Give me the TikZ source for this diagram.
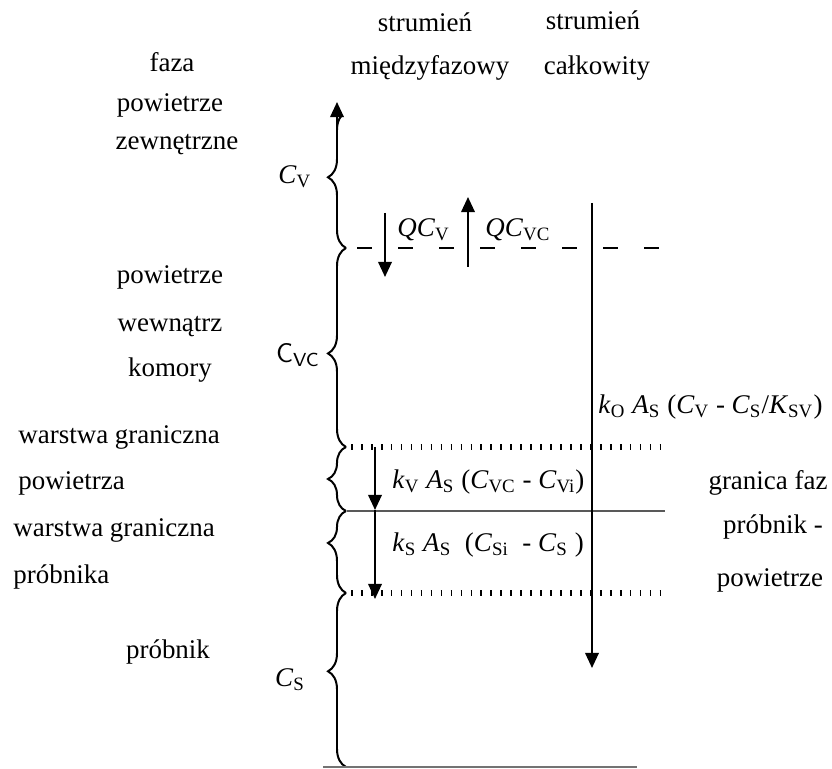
\documentclass[tikz,border=0pt]{standalone}
\usepackage{fontspec}
\setmainfont{Liberation Serif}
\usetikzlibrary{arrows.meta, decorations.pathreplacing}

\newcommand{\cvar}[2]{\textit{#1}\textsubscript{#2}}

\begin{document}
\begin{tikzpicture}[x=0.015cm, y=-0.015cm,
    lbl/.style={inner sep=0pt, font=\fontsize{11.5}{13}\selectfont},
    flow/.style={line width=0.9pt, -{Triangle[length=6.5pt, width=5.8pt]}},
    phase/.style={line width=0.85pt, decorate, decoration={brace, amplitude=0.27cm, aspect=#1}}]
    \useasboundingbox (0,0) rectangle (832,769);

    % Column heads
    \node[lbl] (sm1) at (425,22) {strumień};
    \node[lbl] (sm2) at (430,68) {międzyfazowy};
    \node[lbl] (sc1) at (593,20) {strumień};
    \node[lbl] (sc2) at (597,68) {całkowity};

    % Phase names
    \node[lbl] (faza) at (172,62) {faza};
    \node[lbl] (pz1) at (170,105) {powietrze};
    \node[lbl] (pz2) at (177,145) {zewnętrzne};
    \node[lbl] (pw1) at (170,277) {powietrze};
    \node[lbl] (pw2) at (170,327) {wewnątrz};
    \node[lbl] (pw3) at (170,370) {komory};
    \node[lbl, anchor=west] (wp1) at (18,437) {warstwa graniczna};
    \node[lbl, anchor=west] (wp2) at (18,483) {powietrza};
    \node[lbl, anchor=west] (ws1) at (13,530) {warstwa graniczna};
    \node[lbl, anchor=west] (ws2) at (13,577) {próbnika};
    \node[lbl] (prob) at (168,652) {próbnik};

    % Concentrations
    \node[lbl] (cv) at (295,177) {\cvar{C}{V}};
    \node[lbl] (cvc) at (298,355) {\sffamily C\textsubscript{VC}};
    \node[lbl] (cs) at (290,680) {\cvar{C}{S}};

    % Interface
    \node[lbl] (gf1) at (768,483) {granica faz};
    \node[lbl] (gf2) at (773,527) {próbnik -};
    \node[lbl] (gf3) at (770,580) {powietrze};

    % Braces along the axis
    \coordinate (top) at (346,112);
    \coordinate (j1) at (346,248);
    \coordinate (j2) at (346,447);
    \coordinate (j3) at (346,511);
    \coordinate (j4) at (346,593);
    \coordinate (bot) at (346,767);
    \begin{scope}
        \clip (300,118) rectangle (370,260);
        \draw[phase=0.52] (j1) -- (top);
    \end{scope}
    \draw[phase=0.47] (j2) -- (j1);
    \draw[phase=0.5] (j3) -- (j2);
    \draw[phase=0.61] (j4) -- (j3);
    \draw[phase=0.55] (bot) -- (j4);
    \coordinate (ax0) at (337,130);
    \coordinate (ax1) at (337,102);
    \draw[flow] (ax0) -- (ax1);

    % Boundaries
    \coordinate (d0) at (357,248);
    \coordinate (d1) at (662,248);
    \draw[line width=0.6pt, dash pattern=on 6.4pt off 11.1pt] (d0) -- (d1);
    \coordinate (t0) at (351,447);
    \coordinate (t1) at (663,447);
    \draw[line width=2.4pt, dash pattern=on 0.7pt off 3.55pt] (t0) -- (t1);
    \coordinate (g0) at (347,511);
    \coordinate (g1) at (665,511);
    \draw[line width=1pt, black!65] (g0) -- (g1);
    \coordinate (u0) at (351,593);
    \coordinate (u1) at (663,593);
    \draw[line width=2.4pt, dash pattern=on 0.7pt off 3.55pt] (u0) -- (u1);
    \coordinate (e0) at (323,767);
    \coordinate (e1) at (637,767);
    \draw[line width=0.6pt, black!55] (e0) -- (e1);

    % Interphase flows
    \coordinate (qa0) at (385,213);
    \coordinate (qa1) at (385,277);
    \draw[flow] (qa0) -- (qa1);
    \node[lbl, anchor=west] (qcv) at (397,230) {\cvar{QC}{V}};
    \coordinate (qb0) at (468,267);
    \coordinate (qb1) at (468,197);
    \draw[flow] (qb0) -- (qb1);
    \node[lbl, anchor=west] (qcvc) at (485,230) {\cvar{QC}{VC}};

    % Layer flows
    \coordinate (kv0) at (375,447);
    \coordinate (kv1) at (375,510);
    \coordinate (ks1) at (375,599);
    \draw[flow] (kv0) -- (kv1);
    \draw[flow] (kv1) -- (ks1);
    \node[lbl, anchor=west] (kvf) at (392,482)
        {\cvar{k}{V} \cvar{A}{S} (\cvar{C}{VC} - \cvar{C}{Vi})};
    \node[lbl, anchor=west] (ksf) at (392,545)
        {\cvar{k}{S} \cvar{A}{S}\ \ (\cvar{C}{Si}\ \ - \cvar{C}{S} )};

    % Total flow
    \coordinate (ko0) at (592,203);
    \coordinate (ko1) at (592,668);
    \draw[flow] (ko0) -- (ko1);
    \node[lbl, anchor=west] (kof) at (598,407)
        {\cvar{k}{O} \cvar{A}{S} (\cvar{C}{V} - \cvar{C}{S}/\cvar{K}{SV})};
\end{tikzpicture}
\end{document}
